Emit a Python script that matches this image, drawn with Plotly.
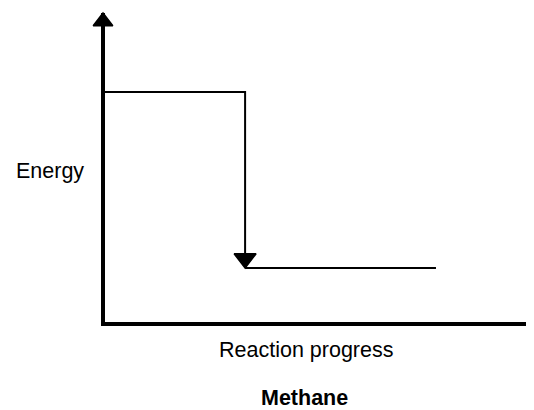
import plotly.graph_objects as go

# ---------------- data ----------------
stages = ["Reactants", "Products"]
energy_levels = [7.46, 1.80]            # relative energy: reactants, products
progress_edges = [0.0, 0.332, 0.778]    # reaction progress: start, transition, end
axis_max = [1.0, 10.0]                  # extent of the drawn x / y axes

x_label = "Reaction progress"
y_label = "Energy"
title_text = "Methane"

# ---------------- style ----------------
FONT = "Liberation Sans, Arial, sans-serif"
BLACK = "#000000"
PAGE_OFF = 8                      # default body margin of the html page
W, H = 534 - PAGE_OFF, 410 - PAGE_OFF
M = dict(l=85, r=1, t=1, b=72)
plot_w = W - M["l"] - M["r"]
plot_h = H - M["t"] - M["b"]

# target pixel positions (in window pixels) of the axes
x_px0, x_px1 = 103 - PAGE_OFF, 531 - PAGE_OFF
y_px0, y_px1 = 324 - PAGE_OFF, 13 - PAGE_OFF
x_scale = (x_px1 - x_px0) / axis_max[0]
y_scale = (y_px0 - y_px1) / axis_max[1]
x_range = [(M["l"] - x_px0) / x_scale, axis_max[0] + (W - M["r"] - x_px1) / x_scale]
y_range = [-((H - M["b"]) - y_px0) / y_scale, axis_max[1] + (y_px1 - M["t"]) / y_scale]

AXIS_HEAD = 17
DROP_HEAD = 19

fig = go.Figure()

# axes with arrowhead on the energy axis
fig.add_trace(go.Scatter(
    x=[axis_max[0], 0, 0], y=[0, 0, axis_max[1]],
    mode="lines+markers",
    line=dict(color=BLACK, width=4),
    marker=dict(symbol="triangle-up", size=[0, 0, AXIS_HEAD], angleref="previous",
                standoff=[0, 0, AXIS_HEAD / 2],
                color=BLACK, opacity=1, line=dict(color=BLACK, width=1.5)),
    cliponaxis=False, hoverinfo="skip", showlegend=False,
))

# reactant level and drop to product level
fig.add_trace(go.Scatter(
    x=[progress_edges[0], progress_edges[1], progress_edges[1]],
    y=[energy_levels[0], energy_levels[0], energy_levels[1]],
    mode="lines+markers",
    line=dict(color=BLACK, width=2),
    marker=dict(symbol="triangle-up", size=[0, 0, DROP_HEAD], angleref="previous",
                standoff=[0, 0, DROP_HEAD / 2],
                color=BLACK, opacity=1, line=dict(color=BLACK, width=1.5)),
    cliponaxis=False, hoverinfo="skip", showlegend=False, name=stages[0],
))

# product level
fig.add_trace(go.Scatter(
    x=[progress_edges[1], progress_edges[2]],
    y=[energy_levels[1], energy_levels[1]],
    mode="lines",
    line=dict(color=BLACK, width=2),
    cliponaxis=False, hoverinfo="skip", showlegend=False, name=stages[1],
))


def px_to_paper(px, py):
    px -= PAGE_OFF
    py -= PAGE_OFF
    return (px - M["l"]) / plot_w, ((H - M["b"]) - py) / plot_h


annos = []
for text, (px, py), weight in [
    (y_label, (50, 171), "normal"),
    (x_label, (306, 350), "normal"),
    (title_text, (304.5, 397.5), "bold"),
]:
    ax_, ay_ = px_to_paper(px, py)
    annos.append(dict(
        text=text, x=ax_, y=ay_, xref="paper", yref="paper",
        xanchor="center", yanchor="middle", showarrow=False,
        font=dict(family=FONT, size=21.5, color=BLACK, weight=weight),
    ))

fig.update_layout(
    width=W, height=H, margin=M,
    paper_bgcolor="white", plot_bgcolor="white",
    xaxis=dict(range=x_range, visible=False, fixedrange=True),
    yaxis=dict(range=y_range, visible=False, fixedrange=True),
    annotations=annos,
    showlegend=False,
)

fig.write_html("out.html")
